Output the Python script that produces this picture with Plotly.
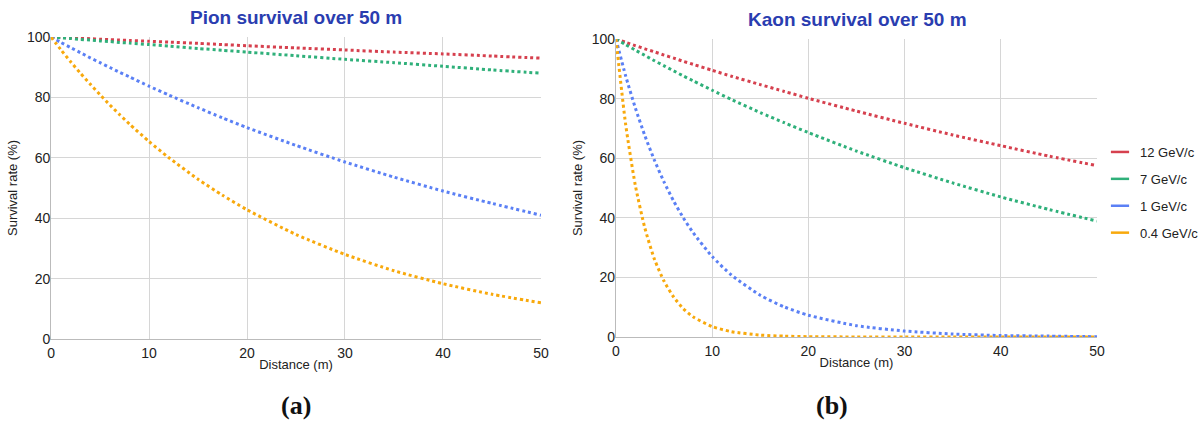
import plotly.graph_objects as go

# Distances (m) sampled along the 50 m flight path
distance = [0, 1, 2, 3, 4, 5, 6, 7, 8, 10, 12, 15, 17.5, 20, 25, 30, 35, 40, 45, 50]

momenta = ["12 GeV/c", "7 GeV/c", "1 GeV/c", "0.4 GeV/c"]
colors = ["#d6404e", "#2fb07a", "#5b80f5", "#f8a90c"]

# Pion survival rate (%)
pion_12 = [100, 99.86, 99.71, 99.57, 99.43, 99.28, 99.14, 99.0, 98.86, 98.6, 98.3, 97.9, 97.5, 97.1, 96.4, 95.7, 95.0, 94.4, 93.7, 93.0]
pion_7 = [100, 99.75, 99.5, 99.2, 99.0, 98.7, 98.5, 98.2, 98.0, 97.5, 97.0, 96.2, 95.6, 95.0, 93.8, 92.6, 91.5, 90.3, 89.1, 88.0]
pion_1 = [100, 98.2, 96.5, 94.8, 93.1, 91.5, 89.9, 88.3, 86.8, 83.7, 80.8, 76.6, 73.2, 70.0, 64.1, 58.6, 53.6, 49.0, 44.9, 41.0]
pion_04 = [100, 95.8, 91.8, 88.0, 84.4, 80.9, 77.5, 74.3, 71.2, 65.4, 60.1, 52.9, 47.6, 42.8, 34.6, 28.0, 22.6, 18.3, 14.8, 12.0]

# Kaon survival rate (%)
kaon_12 = [100, 98.9, 97.8, 96.7, 95.7, 94.6, 93.6, 92.5, 91.5, 89.5, 87.5, 84.7, 82.4, 80.1, 75.8, 71.7, 67.8, 64.2, 60.7, 57.5]
kaon_7 = [100, 98.1, 96.3, 94.5, 92.7, 91.0, 89.3, 87.6, 86.0, 82.8, 79.7, 75.3, 71.9, 68.6, 62.4, 56.8, 51.7, 47.0, 42.8, 38.9]
kaon_1 = [100, 87.7, 77.0, 67.6, 59.3, 52.0, 45.6, 40.0, 35.1, 27.0, 20.8, 14.0, 10.1, 7.3, 3.8, 2.0, 1.0, 0.5, 0.3, 0.1]
kaon_04 = [100, 71.5, 51.1, 36.6, 26.1, 18.7, 13.4, 9.5, 6.8, 3.5, 1.8, 0.65, 0.28, 0.12, 0.02, 0.0, 0.0, 0.0, 0.0, 0.0]

pion = [pion_12, pion_7, pion_1, pion_04]
kaon = [kaon_12, kaon_7, kaon_1, kaon_04]

fig = go.Figure()

for series, xa, ya in [(pion, "x", "y"), (kaon, "x2", "y2")]:
    for name, color, ys in zip(momenta, colors, series):
        fig.add_trace(go.Scatter(
            x=distance, y=ys, mode="lines", name=name,
            line=dict(color=color, width=3, dash="dot", shape="spline", smoothing=0.6),
            xaxis=xa, yaxis=ya, showlegend=False, hoverinfo="skip",
        ))

# Short solid legend swatches
for name, color in zip(momenta, colors):
    fig.add_trace(go.Scatter(
        x=[None], y=[None], mode="markers", name=name, legendgroup=name,
        marker=dict(symbol="line-ew-open", size=13, color=color,
                    line=dict(color=color, width=2.5)),
        xaxis="x2", yaxis="y2",
    ))

font = dict(family="Arial, Liberation Sans, sans-serif", size=13, color="#222222")
axis_common = dict(
    showgrid=True, gridcolor="#d6d6d6", gridwidth=1,
    showline=True, linecolor="#bbbbbb", linewidth=1,
    zeroline=False, ticks="", tickfont=dict(size=14, color="#222222"),
    automargin=False,
)
x_common = dict(range=[0, 50], dtick=10, ticklabelstandoff=1,
                title=dict(text="Distance (m)", font=dict(size=13), standoff=0), **axis_common)
y_common = dict(range=[0, 100], dtick=20, ticklabelstandoff=-3,
                title=dict(text="Survival rate (%)", font=dict(size=13), standoff=6), **axis_common)

title_font = dict(size=19, color="#2a3db0", family="Arial, Liberation Sans, sans-serif")
panel_font = dict(size=26, color="#111111", family="Liberation Serif, serif")

fig.update_layout(
    width=1204, height=421,
    margin=dict(l=0, r=0, t=0, b=0),
    paper_bgcolor="white", plot_bgcolor="white",
    font=font,
    xaxis=dict(domain=[0.0424, 0.4493], anchor="y", **x_common),
    yaxis=dict(domain=[0.1948, 0.9121], anchor="x", **y_common),
    xaxis2=dict(domain=[0.5116, 0.9111], anchor="y2", **x_common),
    yaxis2=dict(domain=[0.1995, 0.9074], anchor="x2", **y_common),
    legend=dict(x=1100 / 1204, y=1 - 137 / 421, xanchor="left", yanchor="top",
                font=dict(size=13, color="#222222"), tracegroupgap=7,
                bgcolor="rgba(0,0,0,0)"),
    annotations=[
        dict(text="<b>Pion survival over 50 m</b>", x=296 / 1204, y=1 - 17 / 421,
             xref="paper", yref="paper", xanchor="center", yanchor="middle",
             showarrow=False, font=title_font),
        dict(text="<b>Kaon survival over 50 m</b>", x=857 / 1204, y=1 - 19 / 421,
             xref="paper", yref="paper", xanchor="center", yanchor="middle",
             showarrow=False, font=title_font),
        dict(text="<b>(a)</b>", x=296 / 1204, y=1 - 405 / 421,
             xref="paper", yref="paper", xanchor="center", yanchor="middle",
             showarrow=False, font=panel_font),
        dict(text="<b>(b)</b>", x=832 / 1204, y=1 - 405 / 421,
             xref="paper", yref="paper", xanchor="center", yanchor="middle",
             showarrow=False, font=panel_font),
    ],
)

fig.write_html("out.html")
